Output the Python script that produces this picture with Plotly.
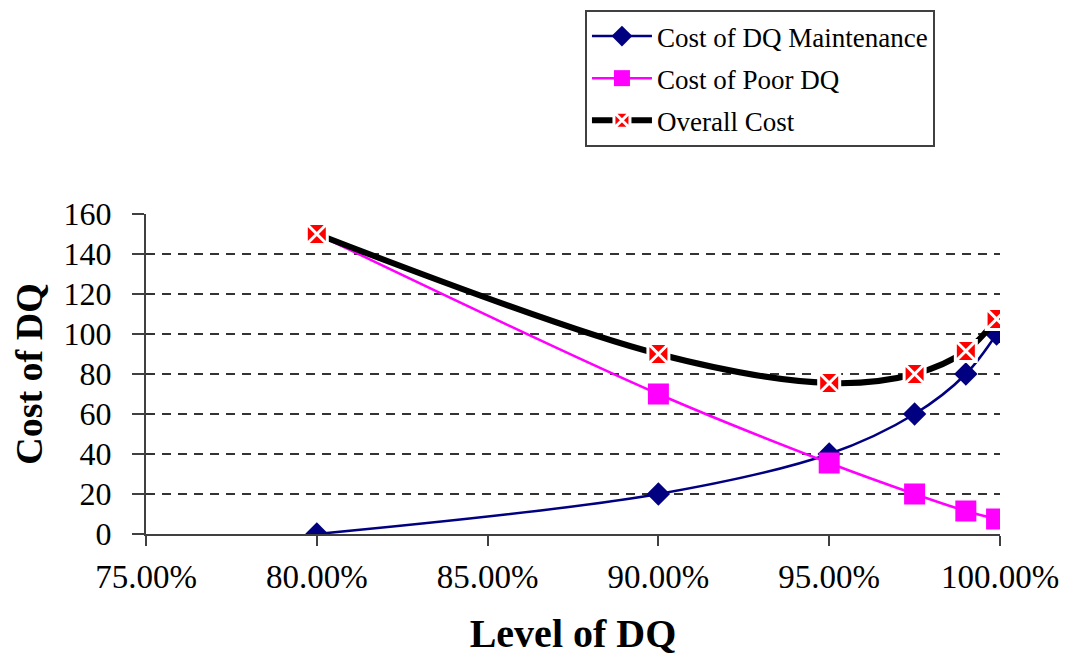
import plotly.graph_objects as go

level = [0.80, 0.90, 0.95, 0.975, 0.99, 0.999]
maintenance = [0, 20, 40, 60, 80, 100]
poor_dq = [150, 70, 35.5, 20, 11.5, 7.5]
overall = [150, 90, 75.5, 80, 91.5, 107.5]

y_ticks = [0, 20, 40, 60, 80, 100, 120, 140, 160]
grid_vals = [20, 40, 60, 80, 100, 120, 140]
x_ticks = [0.75, 0.80, 0.85, 0.90, 0.95, 1.00]

FONT = "Liberation Serif, Times New Roman, serif"

fig = go.Figure()
fig.add_trace(go.Scatter(
    x=level, y=maintenance, name="Cost of DQ Maintenance", mode="lines+markers",
    line=dict(color="#000080", width=2.5, shape="spline", smoothing=1),
    marker=dict(symbol="diamond", size=18, color="#000080"),
    legendgroup="a"))
fig.add_trace(go.Scatter(
    x=level, y=poor_dq, name="Cost of Poor DQ", mode="lines+markers",
    line=dict(color="#FF00FF", width=2.5, shape="spline", smoothing=1),
    marker=dict(symbol="square", size=21, color="#FF00FF"),
    legendgroup="b"))
fig.add_trace(go.Scatter(
    x=level, y=overall, name="Overall Cost", mode="lines+markers",
    line=dict(color="black", width=6, shape="spline", smoothing=1),
    marker=dict(symbol="square-x", size=21, color="#FF0000",
                line=dict(color="white", width=3)),
    legendgroup="c"))

# page body has an 8px margin, so the figure is 8px smaller and margins shifted
fig.update_layout(
    width=1059, height=648,
    margin=dict(l=138, r=67, t=206, b=122, autoexpand=False),
    paper_bgcolor="white", plot_bgcolor="white",
    font=dict(family=FONT, size=26, color="black"),
    hovermode=False,
    legend=dict(
        x=0.514, y=1.6375, xanchor="left", yanchor="top",
        bordercolor="#404040", borderwidth=2, bgcolor="white",
        font=dict(family=FONT, size=27, color="black"),
        tracegroupgap=4, itemwidth=60,
    ),
    xaxis=dict(
        range=[0.75, 1.0], tickvals=x_ticks, tickformat=".2%",
        showgrid=False, zeroline=False, automargin=False,
        showline=True, linecolor="#404040", linewidth=2,
        ticks="outside", ticklen=10, tickwidth=2, tickcolor="#404040",
        tickfont=dict(family=FONT, size=33), ticklabelstandoff=2,
        title=dict(text="<b>Level of DQ</b>", font=dict(family=FONT, size=40), standoff=28),
    ),
    yaxis=dict(
        range=[0, 160], tickvals=y_ticks,
        showgrid=False, zeroline=False, automargin=False,
        showline=True, linecolor="#404040", linewidth=2,
        ticks="outside", ticklen=12, tickwidth=2, tickcolor="#404040",
        tickfont=dict(family=FONT, size=32), ticklabelstandoff=14,
        minor=dict(tickvals=grid_vals, showgrid=True, gridcolor="#333333",
                   griddash="9px,7px", gridwidth=1.5, ticks=""),
        title=dict(text="<b>Cost of DQ</b>", font=dict(family=FONT, size=38), standoff=10),
    ),
)

fig.write_html("out.html")
